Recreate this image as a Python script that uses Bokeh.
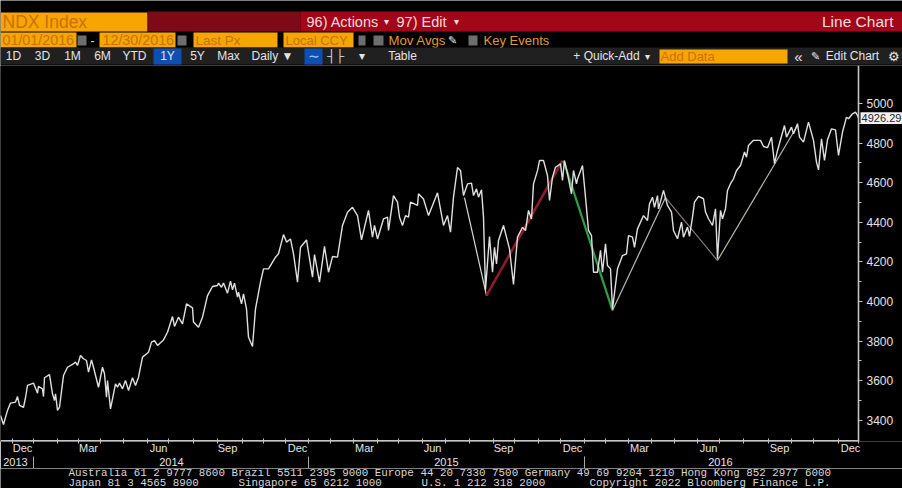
from bokeh.plotting import figure
from bokeh.embed import file_html
from bokeh.resources import INLINE
from bokeh.layouts import column
from bokeh.core.properties import value
from bokeh.models import LinearAxis, FixedTicker, Range1d

# x = session number along the chart's time axis
sessions = [0,3,7,10,15,17,19,23,25,27,33,37,38,42,43,44,49,52,54,55,57,59,63,67,72,75,77,80,83,86,88,91,93,98,102,104,106,107,110,115,117,119,122,125,128,132,135,138,142,148,151,154,157,163,167,172,174,178,182,186,192,193,198,202,207,212,217,218,221,223,227,230,232,234,237,238,241,243,246,248,252,255,260,263,268,275,278,283,286,290,293,297,300,306,312,314,319,324,328,332,337,342,347,352,357,361,368,372,374,377,383,387,388,393,397,399,402,405,408,410,417,418,423,428,432,437,443,447,450,453,457,460,463,467,471,473,476,478,481,483,485,489,492,494,496,498,503,506,509,513,517,522,525,528,531,533,537,539,543,547,549,552,555,560,562,564,567,571,573,576,577,582,585,588,591,593,597,600,602,605,607,610,612,617,622,626,628,632,634,637,643,647,649,652,654,657,658,663,667,671,673,677,681,683,687,689,692,694,698,703,705,708,712,715,717,720,722,725,727,730,733,736,740,744,746,748,753,760,763,767,771,774,777,784,786,791,793,797,799,803,808,813,816,818,821,824,827,831,835,838,842,846,848,852,855,857,858]
closes = [3424,3379,3450,3487,3492,3520,3475,3466,3514,3576,3588,3537,3571,3559,3520,3615,3631,3534,3500,3534,3450,3466,3626,3668,3682,3694,3677,3727,3711,3702,3643,3705,3668,3567,3668,3635,3517,3601,3458,3584,3567,3588,3559,3601,3551,3615,3576,3618,3719,3744,3795,3803,3778,3806,3845,3924,3874,3921,3887,3988,3968,3896,3870,3921,4030,4076,4081,4093,4072,4093,4042,4103,4059,4093,4022,4047,3988,4039,3963,3820,3773,3963,4098,4165,4165,4224,4241,4338,4300,4316,4241,4098,4274,4311,4123,4237,4098,4278,4148,4227,4224,4384,4451,4476,4434,4311,4460,4325,4384,4316,4417,4426,4359,4535,4502,4426,4384,4434,4426,4502,4485,4544,4518,4434,4485,4549,4384,4434,4350,4527,4677,4662,4535,4594,4598,4535,4569,4527,4564,4426,4060,4328,4148,4274,4190,4308,4384,4325,4266,4086,4325,4375,4358,4460,4417,4594,4661,4712,4712,4636,4510,4628,4678,4695,4611,4712,4645,4544,4662,4594,4619,4687,4527,4359,4333,4148,4148,4258,4148,4291,4182,4165,3963,4165,4232,4241,4333,4325,4274,4367,4434,4409,4493,4527,4476,4535,4468,4561,4485,4452,4359,4317,4401,4325,4376,4329,4426,4502,4531,4519,4452,4418,4384,4468,4216,4460,4418,4468,4561,4595,4620,4662,4687,4755,4729,4788,4814,4814,4783,4777,4830,4696,4763,4889,4830,4881,4847,4898,4830,4805,4906,4814,4704,4665,4822,4713,4817,4872,4867,4738,4856,4931,4923,4948,4957,4940,4926.29]

# drawn trend segments
trend_x = [[464,486],[486,562],[563,612],[612,665],[665,717],[717,797]]
trend_y = [[4525,4030],[4030,4712],[4712,3955],[3955,4525],[4525,4207],[4207,4889]]
trend_colors = ["#d8d8d8","#8e1a2e","#2f9e4a","#b8b8b4","#85777c","#b8b4a6"]
trend_widths = [1.2,2.6,2.2,1.2,1.2,1.2]

month_starts = [12,33,57,78,100,123,147,168,193,217,242,263,285,308,330,353,377,398,422,445,469,493,514,538,560,584,605,628,651,674,697,719,743,768,791,813,838,858]
quarter_pos = [22,88,158,227,297,364,432,503,572,639,708,779,850]
quarter_labels = ["Dec","Mar","Jun","Sep","Dec","Mar","Jun","Sep","Dec","Mar","Jun","Sep","Dec"]
year_pos = [15,171,446,720]
year_labels = ["2013","2014","2015","2016"]
year_breaks = [33,308,584]
price_major = [3400,3600,3800,4000,4200,4400,4600,4800,5000]
price_minor = [3500,3700,3900,4100,4300,4500,4700,4900]
last_price = 4926.29
x_end = 858
y_low, y_high = 3293, 5192

AMBER = "#f7a600"; AMBER_TXT = "#c9700c"; RED = "#a30519"; DARKRED = "#7c0a17"; BAR = "#202020"
AXIS = "#c4c4c4"; TXT = "#e4e4e4"

def strip(height, y0, y1):
    f = figure(width=902, height=height, output_backend="svg", toolbar_location=None,
               x_range=Range1d(0, 902), y_range=Range1d(y1, y0), x_axis_type=None, y_axis_type=None,
               background_fill_color="black", border_fill_color="black", outline_line_color=None,
               min_border=0, frame_align=False)
    f.grid.visible = False
    return f

head = strip(65, 0, 65)
foot = strip(20, 468, 488)

def box(f, x0, x1, y0, y1, color):
    f.quad(left=[x0], right=[x1], top=[y0], bottom=[y1], fill_color=color, line_color=None)

def txt(f, x, y, s, color=TXT, size=12, font="Liberation Sans", align="left"):
    f.text(x=[x], y=[y], text=[s], text_color=color, text_font_size=f"{size}px", text_font=value(font),
           text_align=align, text_baseline="middle")

# header row 1
box(head, 0, 147, 12, 31, AMBER); box(head, 147, 300, 11, 31, DARKRED); box(head, 300, 902, 11, 31, RED)
txt(head, 2, 21, "NDX Index", AMBER_TXT, 17.5)
txt(head, 306, 21, "96) Actions", "#f4dcdc", 14.5); txt(head, 386, 21, "▾", "#f4dcdc", 10, align="center")
txt(head, 396, 21, "97) Edit", "#f4dcdc", 14.5); txt(head, 456, 21, "▾", "#f4dcdc", 10, align="center")
txt(head, 893, 21, "Line Chart", "#f4dcdc", 15.5, align="right")

# header row 2
for a, b in [(0, 76), (99, 175), (193, 277), (283, 353)]:
    box(head, a, b, 32, 47, AMBER)
for a, b in [(77, 86), (177, 186), (358, 365), (373, 383), (468, 477)]:
    box(head, a, b, 35, 45, "#6e6e6e")
txt(head, 2, 39.5, "01/01/2016", AMBER_TXT, 14.3)
txt(head, 92, 39.5, "-", TXT, 12, align="center")
txt(head, 102, 39.5, "12/30/2016", AMBER_TXT, 14.3)
txt(head, 195, 39.5, "Last Px", AMBER_TXT, 13.5)
txt(head, 285, 39.5, "Local CCY", AMBER_TXT, 13)
txt(head, 388, 39.5, "Mov Avgs", "#e09a35", 13.2)
txt(head, 447, 39.5, "✎", TXT, 11)
txt(head, 483, 39.5, "Key Events", "#e09a35", 13)

# header row 3
box(head, 0, 902, 47, 64, BAR)
box(head, 153, 181, 48, 64, "#0f4fb4"); box(head, 304, 322, 48, 64, "#0f4fb4")
box(head, 659, 787, 49, 63, AMBER)
for x, s in [(13, "1D"), (42, "3D"), (72, "1M"), (102, "6M"), (134, "YTD"), (167, "1Y"), (197, "5Y"), (228, "Max"),
             (272, "Daily ▼"), (335, "┤├"), (361, "▾"), (402, "Table")]:
    txt(head, x, 55.5, s, TXT, 12, align="center")
txt(head, 313, 55.5, "∼", "#9cc4f4", 14, align="center")
txt(head, 606, 55.5, "+ Quick-Add", TXT, 12, align="center"); txt(head, 647, 55.5, "▾", TXT, 10, align="center")
txt(head, 660, 55.5, "Add Data", AMBER_TXT, 13)
txt(head, 798, 55.5, "«", TXT, 15, align="center")
txt(head, 815, 55.5, "✎", TXT, 11, align="center")
txt(head, 852, 55.5, "Edit Chart", TXT, 12, align="center")
txt(head, 893, 55.5, "⚙", TXT, 13, align="center")

# footer
FONT = "Liberation Mono"
FS = 10.86
txt(foot, 68, 472.5, "Australia 61 2 9777 8600 Brazil 5511 2395 9000 Europe 44 20 7330 7500 Germany 49 69 9204 1210 Hong Kong 852 2977 6000", "#d8d8d8", FS, FONT)
txt(foot, 68, 482, "Japan 81 3 4565 8900", "#d8d8d8", FS, FONT)
txt(foot, 238, 482, "Singapore 65 6212 1000", "#d8d8d8", FS, FONT)
txt(foot, 421, 482, "U.S. 1 212 318 2000", "#d8d8d8", FS, FONT)
txt(foot, 589, 482, "Copyright 2022 Bloomberg Finance L.P.", "#d8d8d8", FS, FONT)

# main chart
p = figure(width=902, height=403, output_backend="svg", toolbar_location=None,
           x_range=Range1d(0, 902), y_range=Range1d(y_low, y_high),
           x_axis_type=None, y_axis_type=None,
           background_fill_color="black", border_fill_color="black",
           min_border=0, frame_align=False)
p.outline_line_color = None
p.grid.visible = False

# black edge mask along the frame's top and left
p.line([0, 902], [y_high, y_high], line_color="black", line_width=4)
p.line([0, 0], [y_low, y_high], line_color="black", line_width=4)

for xs, ys, c, w in zip(trend_x, trend_y, trend_colors, trend_widths):
    p.line(xs, ys, line_color=c, line_width=w)
p.line(sessions, closes, line_color="#e0e0e0", line_width=1.4)

# axis rules
p.line([x_end, x_end], [y_low, y_high], line_color=AXIS, line_width=1.6)
p.line([0, x_end], [y_low, y_low], line_color=AXIS, line_width=3.2)

ax = LinearAxis(ticker=FixedTicker(ticks=quarter_pos, minor_ticks=month_starts),
                major_label_overrides={a: b for a, b in zip(quarter_pos, quarter_labels)})
ax.axis_line_color = None
ax.major_tick_line_color = None; ax.major_tick_in = 0; ax.major_tick_out = 0
ax.minor_tick_line_color = AXIS; ax.minor_tick_in = 3; ax.minor_tick_out = 2
ax.major_label_text_color = TXT; ax.major_label_text_font = "Liberation Sans"
ax.major_label_text_font_size = "11px"; ax.major_label_standoff = -2
p.add_layout(ax, "below")

yx = LinearAxis(ticker=FixedTicker(ticks=year_pos, minor_ticks=year_breaks),
                major_label_overrides={a: b for a, b in zip(year_pos, year_labels)})
yx.axis_line_color = None
yx.major_tick_line_color = None; yx.major_tick_in = 0; yx.major_tick_out = 0
yx.minor_tick_line_color = "#a8a8a8"; yx.minor_tick_in = 0; yx.minor_tick_out = 13
yx.major_label_text_color = TXT; yx.major_label_text_font = "Liberation Sans"
yx.major_label_text_font_size = "11px"; yx.major_label_standoff = -12
p.add_layout(yx, "below")

ry = LinearAxis(ticker=FixedTicker(ticks=price_major, minor_ticks=price_minor),
                major_label_overrides={v: str(v) for v in price_major},
                fixed_location=x_end)
ry.axis_line_color = None
ry.major_tick_line_color = AXIS; ry.major_tick_in = 0; ry.major_tick_out = 4
ry.minor_tick_line_color = AXIS; ry.minor_tick_in = 0; ry.minor_tick_out = 3
ry.major_label_text_color = TXT; ry.major_label_text_font = "Liberation Sans"
ry.major_label_text_font_size = "12px"; ry.major_label_standoff = 4
p.add_layout(ry, "right")

p.quad(left=[860], right=[902], top=[last_price + 30], bottom=[last_price - 30], fill_color="#f2f2f2", line_color=None)
p.text(x=[881], y=[last_price], text=[f"{last_price:.2f}"], text_color="#222222", text_font_size="11px",
       text_font=value("Liberation Sans"), text_align="center", text_baseline="middle")

page = column(head, p, foot, spacing=0)
page.styles = {"position": "absolute", "left": "0", "top": "0"}
open("out.html", "w").write(file_html(page, INLINE))
